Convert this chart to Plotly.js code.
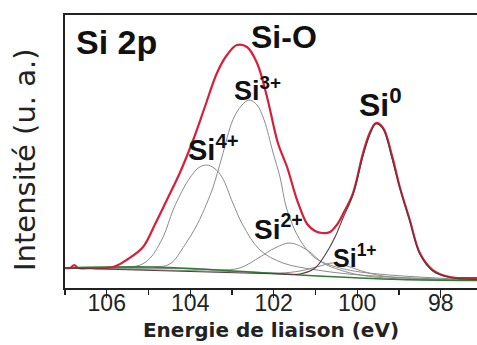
<!DOCTYPE html>
<html><head><meta charset="utf-8">
<script src="https://cdn.plot.ly/plotly-3.0.1.min.js"></script>
<style>html,body{margin:0;padding:0;background:#fff;overflow:hidden}#plot{width:477px;height:345px}</style>
</head><body><div id="plot"></div>
<script>
// Binding energy (eV) and intensity (a.u.)
const envE = [107.00,106.88,106.78,106.69,106.40,105.85,105.49,105.13,104.84,104.56,104.25,103.93,103.65,103.36,103.12,102.88,102.64,102.40,102.16,101.90,101.68,101.44,101.20,101.01,100.84,100.65,100.49,100.34,100.10,99.86,99.69,99.55,99.38,99.17,98.98,98.74,98.50,98.19,97.78,97.13];
const envI = [7.33,7.33,8.42,7.33,7.33,7.69,10.62,15.02,23.44,32.23,42.12,54.21,66.30,78.75,85.35,89.01,88.28,82.42,69.96,53.11,44.32,32.23,23.44,20.88,20.15,20.51,23.08,27.11,34.80,49.45,57.14,60.44,58.61,48.72,37.00,24.91,12.82,6.59,4.03,3.66];

const bgE = [107.00,104.96,103.77,102.57,101.37,100.17,98.98,97.13];
const bgI = [7.40,7.69,6.96,5.86,4.76,3.85,3.11,2.75];

const si4E = [107.00,105.68,105.20,104.96,104.65,104.41,104.17,104.01,103.81,103.62,103.43,103.24,102.98,102.74,102.33,101.78,100.96,99.93,97.13];
const si4I = [7.33,7.33,8.42,10.99,18.68,28.57,36.26,40.29,43.96,45.05,43.96,40.66,31.14,23.08,13.92,9.16,6.59,4.76,2.75];

const si3E = [107.00,104.96,104.49,104.13,103.84,103.60,103.46,103.24,102.98,102.78,102.59,102.40,102.23,102.02,101.85,101.68,101.37,101.01,100.65,99.93,97.13];
const si3I = [7.33,7.69,8.79,15.75,23.08,31.14,36.63,47.99,61.54,66.67,68.86,67.03,61.54,49.82,40.66,28.57,17.58,10.99,8.42,5.86,2.93];

const si2E = [107.00,103.77,103.29,102.81,102.33,101.97,101.61,101.20,100.82,100.41,99.93,98.98,97.13];
const si2I = [7.33,6.96,6.59,7.33,11.36,14.65,16.48,13.92,9.16,6.59,4.76,3.30,2.93];

const si1E = [107.00,102.57,101.85,101.37,100.89,100.58,100.25,99.81,99.22,97.13];
const si1I = [7.33,5.86,5.49,6.23,8.06,9.16,8.06,5.86,4.03,2.93];

const si0E = [107.00,101.85,101.37,101.01,100.77,100.53,100.34,100.10,99.86,99.69,99.55,99.38,99.17,98.98,98.74,98.50,98.19,97.78,97.13];
const si0I = [7.33,5.13,5.13,7.33,12.09,18.68,25.64,34.07,48.35,56.41,60.07,58.24,47.62,36.63,24.54,12.45,6.23,3.85,3.11];

const tickVals = [106,104,102,100,98];
const tickText = ['106','104','102','100','98'];

const peakLabels = ['Si 2p','Si-O','Si<sup>4+</sup>','Si<sup>3+</sup>','Si<sup>2+</sup>','Si<sup>1+</sup>','Si<sup>0</sup>'];

const gray = {color:'#8c8c8c', width:1, shape:'spline', smoothing:1};
const traces = [
  {x:si4E, y:si4I, mode:'lines', line:gray},
  {x:si3E, y:si3I, mode:'lines', line:gray},
  {x:si2E, y:si2I, mode:'lines', line:gray},
  {x:si1E, y:si1I, mode:'lines', line:gray},
  {x:bgE, y:bgI, mode:'lines', line:{color:'#2e7d32', width:1.6, shape:'spline', smoothing:1}},
  {x:envE, y:envI, mode:'lines', line:{color:'#d81e3c', width:2.2, shape:'spline', smoothing:1}},
  {x:si0E, y:si0I, mode:'lines', line:{color:'#5a3a3a', width:1.1, shape:'spline', smoothing:1}}
];

const lab = (t, px, py, size) => ({
  text:t, xref:'paper', yref:'paper', x:(px-65)/412, y:(288-py)/273,
  xanchor:'left', yanchor:'middle', showarrow:false,
  font:{family:'Liberation Sans', size:size, color:'#111', weight:'bold'}
});

const layout = {
  width:477, height:345,
  margin:{l:65, r:0, t:15, b:57},
  paper_bgcolor:'#fff', plot_bgcolor:'#fff',
  showlegend:false,
  xaxis:{
    range:[107, 97.13], showgrid:false, zeroline:false,
    showline:true, linecolor:'#222', linewidth:1.6, mirror:true,
    ticks:'outside', ticklen:8, tickwidth:1.4, tickcolor:'#222',
    tickvals:tickVals, ticktext:tickText,
    ticklabelstandoff:-14,
    tickfont:{family:'Liberation Sans', size:23, color:'#222'},
    minor:{dtick:1, tick0:97, ticks:'outside', ticklen:5, tickwidth:1.2, tickcolor:'#222', showgrid:false},
    title:{text:'Energie de liaison (eV)', standoff:8, font:{family:'DejaVu Sans', size:20, color:'#222', weight:'bold'}}
  },
  yaxis:{
    range:[0,100], showgrid:false, zeroline:false,
    showline:true, linecolor:'#222', linewidth:1.6, mirror:false,
    showticklabels:false, ticks:''
  },
  annotations:[
    lab(peakLabels[0], 74, 42, 34),
    lab(peakLabels[1], 249, 37, 32),
    lab(peakLabels[2], 186, 148, 29),
    lab(peakLabels[3], 232, 89, 27),
    lab(peakLabels[4], 252, 227, 28),
    lab(peakLabels[5], 331, 256, 25),
    lab(peakLabels[6], 357, 103, 32),
    {text:'Intensité (u. a.)', xref:'paper', yref:'paper', x:(25-65)/412, y:(288-160)/273,
     xanchor:'center', yanchor:'middle', textangle:-90, showarrow:false,
     font:{family:'DejaVu Sans', size:29, color:'#222'}}
  ]
};

Plotly.newPlot('plot', traces, layout, {staticPlot:true, displayModeBar:false});
</script></body></html>
